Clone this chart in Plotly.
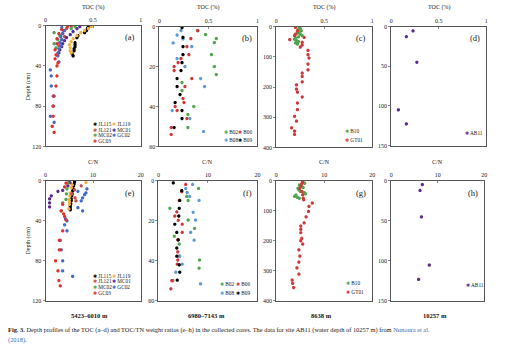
import plotly.graph_objects as go

# ---------------- DATA ----------------
# Panel (a) TOC (%) vs depth (cm), sites 5423-6010 m
a_JL115_d = [1, 3, 5, 7, 10, 12, 17, 19, 21, 23, 25, 28, 30]
a_JL115_v = [0.45, 0.44, 0.43, 0.41, 0.34, 0.33, 0.31, 0.31, 0.31, 0.30, 0.30, 0.28, 0.29]
a_JL119_d = [1, 3, 5, 7, 10, 13, 16, 19, 22, 25, 27]
a_JL119_v = [0.48, 0.45, 0.41, 0.37, 0.33, 0.29, 0.27, 0.25, 0.26, 0.26, 0.27]
a_JL121_d = [1, 3, 5, 8, 11, 14, 17, 20]
a_JL121_v = [0.27, 0.22, 0.20, 0.18, 0.20, 0.17, 0.15, 0.14]
a_MC01_d = [1, 3, 6, 9, 12, 15, 18, 21, 24, 27]
a_MC01_v = [0.36, 0.33, 0.29, 0.26, 0.22, 0.20, 0.18, 0.17, 0.15, 0.14]
a_MC02_d = [1, 3, 7, 10, 14, 18, 22]
a_MC02_v = [0.31, 0.27, 0.09, 0.15, 0.13, 0.09, 0.11]
a_GC02_d = [2, 5, 8, 11, 14, 17, 20, 23, 27, 30, 36, 44, 50, 60, 70, 80, 90, 96]
a_GC02_v = [0.17, 0.19, 0.18, 0.16, 0.17, 0.15, 0.16, 0.14, 0.13, 0.13, 0.14, 0.05, 0.06, 0.06, 0.08, 0.08, 0.05, 0.09]
a_GC03_d = [1, 4, 8, 13, 18, 24, 29, 33, 37, 40, 50, 60, 70, 80, 90, 100, 106]
a_GC03_v = [0.23, 0.17, 0.14, 0.12, 0.12, 0.10, 0.11, 0.10, 0.13, 0.12, 0.12, 0.11, 0.09, 0.08, 0.08, 0.07, 0.09]

# Panel (b) TOC, 6980-7143 m
b_B02_d = [2, 4, 6, 8, 14, 20, 24, 28, 32, 40, 44, 50.5]
b_B02_v = [0.39, 0.47, 0.58, 0.56, 0.53, 0.56, 0.58, 0.23, 0.23, 0.35, 0.29, 0.29]
b_B06_d = [2, 6, 10, 14, 16, 18, 20, 22, 26, 30, 36, 38, 40, 42, 46, 50.5, 54]
b_B06_v = [0.39, 0.32, 0.28, 0.30, 0.22, 0.19, 0.15, 0.15, 0.33, 0.26, 0.24, 0.25, 0.16, 0.18, 0.28, 0.12, 0.12]
b_B08_d = [2, 4.3, 6.2, 8.2, 10, 16, 20, 26, 30, 42, 46, 52.5]
b_B08_v = [0.22, 0.18, 0.24, 0.14, 0.33, 0.18, 0.26, 0.42, 0.46, 0.13, 0.31, 0.45]
b_B09_d = [0.5, 5.4, 10, 14, 18, 22, 26, 30, 34, 38, 42, 46, 50.5]
b_B09_v = [0.23, 0.24, 0.24, 0.24, 0.23, 0.22, 0.18, 0.18, 0.21, 0.16, 0.23, 0.23, 0.15]

# Panel (c) TOC, 8638 m
c_B10_d = [2, 6, 10, 14, 18, 22, 26, 30, 34, 38, 42, 46, 50, 54, 58]
c_B10_v = [0.24, 0.25, 0.23, 0.26, 0.24, 0.22, 0.25, 0.27, 0.23, 0.20, 0.19, 0.21, 0.23, 0.20, 0.22]
c_GT01_d = [3, 14, 25, 30, 36, 43, 52, 61, 68, 79, 93, 104, 124, 143, 154, 165, 183,
            193, 207, 217, 233, 253, 275, 297, 313, 335, 346, 357]
c_GT01_v = [0.20, 0.22, 0.20, 0.19, 0.29, 0.14, 0.27, 0.27, 0.25, 0.33, 0.33, 0.34, 0.33, 0.33,
            0.27, 0.27, 0.27, 0.21, 0.21, 0.22, 0.27, 0.22, 0.22, 0.19, 0.21, 0.16, 0.19, 0.19]

# Panel (d) TOC, 10257 m
d_AB11_d = [5.4, 12.8, 45, 105, 122.7]
d_AB11_v = [0.23, 0.16, 0.27, 0.076, 0.16]

# Panel (e) C/N, 5423-6010 m
e_JL115_d = [1, 3, 5, 8, 10, 13, 15, 18, 20, 23, 25, 27, 29]
e_JL115_v = [6.1, 6.0, 5.9, 5.8, 5.7, 5.6, 5.5, 5.4, 5.4, 5.3, 5.2, 5.2, 5.2]
e_JL119_d = [1.6, 4, 7, 12, 15, 18.6, 21, 23.5, 28]
e_JL119_v = [8.5, 5.6, 5.4, 5.2, 5.1, 5.0, 5.0, 5.0, 4.9]
e_JL121_d = [2, 5, 9, 13, 17, 20]
e_JL121_v = [5.2, 7.5, 6.1, 5.5, 6.2, 6.4]
e_MC01_d = [1.6, 5, 9.5, 10.5, 15, 18, 22, 26]
e_MC01_v = [5.0, 4.7, 3.6, 2.6, 1.2, 0.84, 0.84, 0.84]
e_MC02_d = [2, 8, 13, 18.6, 22, 30]
e_MC02_v = [4.7, 4.5, 4.4, 4.3, 3.6, 3.3]
e_GC02_d = [8, 10.5, 12, 13.7, 17, 20, 26.8, 30, 38, 40, 44, 50, 59.5, 69, 80, 90, 95.5]
e_GC02_v = [8.7, 6.8, 8.5, 8.2, 7.8, 7.5, 6.8, 7.8, 4.2, 4.5, 4.0, 4.5, 3.1, 3.3, 3.6, 3.6, 5.7]
e_GC03_d = [2.3, 6, 23.5, 30, 33, 35.6, 39, 50, 59.5, 69, 80, 90, 99.7, 105]
e_GC03_v = [4.3, 4.0, 3.6, 3.3, 3.8, 4.0, 4.3, 3.6, 2.9, 2.9, 2.1, 2.6, 2.8, 3.1]

# Panel (f) C/N, 6980-7143 m
f_B02_d = [3.8, 7.8, 9.8, 13.7, 19.6, 23.8, 27.7, 31.6, 39.6, 43.7, 49.9]
f_B02_v = [8.1, 5.7, 6.0, 2.3, 6.0, 7.3, 3.2, 4.2, 8.3, 8.2, 2.9]
f_B06_d = [1.8, 5.4, 9.8, 15.5, 17.6, 19.7, 21.7, 25.8, 29.5, 35.5, 37.7, 39.6, 41.7, 49.9, 54]
f_B06_v = [5.5, 4.7, 4.2, 3.7, 3.3, 4.0, 4.8, 4.8, 3.9, 3.9, 4.2, 3.9, 3.8, 2.7, 2.5]
f_B08_d = [1.8, 3.8, 5.9, 7.8, 9.8, 15.7, 19.6, 25.8, 29.7, 37.7, 41.7, 45.7, 51.5]
f_B08_v = [6.9, 5.5, 5.8, 6.3, 8.2, 7.0, 7.5, 6.5, 7.2, 4.3, 4.8, 3.5, 8.5]
f_B09_d = [1, 4.9, 9.8, 13.7, 17.6, 21.7, 25.8, 29.5, 33.6, 37.7, 42, 45.7, 49.7]
f_B09_v = [3.0, 4.7, 4.3, 4.2, 4.1, 3.3, 3.7, 4.0, 3.7, 3.7, 4.2, 4.3, 3.8]

# Panel (g) C/N, 8638 m
g_B10_d = [3, 8, 14, 18, 22, 25, 30, 35, 39, 43, 47, 52, 55, 58]
g_B10_v = [5.5, 5.9, 4.8, 5.2, 5.6, 4.5, 4.7, 5.0, 5.8, 6.1, 4.1, 3.8, 4.4, 4.8]
g_GT01_d = [3, 9, 17, 25, 36, 47, 58, 63, 74, 85, 102, 120, 140, 151, 162, 173, 192,
            200, 211, 230, 251, 271, 290, 311, 331, 342, 356]
g_GT01_v = [5.5, 5.3, 5.1, 4.9, 5.3, 5.5, 5.6, 5.7, 7.5, 6.8, 6.7, 6.2, 5.8, 5.1, 5.1, 5.1,
            5.3, 5.1, 5.5, 4.7, 4.9, 4.7, 4.3, 4.7, 3.3, 3.4, 3.6]

# Panel (h) C/N, 10257 m
h_AB11_d = [4.6, 12, 45, 105.4, 123.3]
h_AB11_v = [6.7, 6.2, 6.5, 8.2, 5.9]

# Labels
panel_letters = ["(a)", "(b)", "(c)", "(d)", "(e)", "(f)", "(g)", "(h)"]
site_labels = ["5423\u20136010 m", "6980\u20137143 m", "8638 m", "10257 m"]
depth_max = [120, 60, 400, 150]
depth_dtick = [40, 20, 100, 50]

# ---------------- STYLE ----------------
COL = {
    "JL115": "#000000", "JL119": "#f2b33d", "JL121": "#c0504d", "MC01": "#5b2c8f",
    "MC02": "#4ea64e", "GC02": "#3f6cc8", "GC03": "#e2302e",
    "B02": "#4ea64e", "B06": "#d0393a", "B08": "#5b9bd5", "B09": "#000000",
    "B10": "#4ea64e", "GT01": "#d0393a", "AB11": "#5b2c8f",
}
FONT = "Liberation Serif, Times New Roman, serif"
TXT = "#1a1a1a"
W, H = 512, 349

# panel pixel boxes (left, right, top, bottom)
boxes = [
    (44, 140, 23, 146), (159, 258, 24, 146), (277, 374, 24, 147), (393, 489, 24, 145),
    (44, 140, 181, 303), (158, 258, 181, 303), (277, 374, 181, 303), (393, 487, 181, 303),
]

panels = [
    [("JL115", a_JL115_v, a_JL115_d), ("JL119", a_JL119_v, a_JL119_d), ("JL121", a_JL121_v, a_JL121_d),
     ("MC01", a_MC01_v, a_MC01_d), ("MC02", a_MC02_v, a_MC02_d), ("GC02", a_GC02_v, a_GC02_d),
     ("GC03", a_GC03_v, a_GC03_d)],
    [("B02", b_B02_v, b_B02_d), ("B06", b_B06_v, b_B06_d), ("B08", b_B08_v, b_B08_d), ("B09", b_B09_v, b_B09_d)],
    [("B10", c_B10_v, c_B10_d), ("GT01", c_GT01_v, c_GT01_d)],
    [("AB11", d_AB11_v, d_AB11_d)],
    [("JL115", e_JL115_v, e_JL115_d), ("JL119", e_JL119_v, e_JL119_d), ("JL121", e_JL121_v, e_JL121_d),
     ("MC01", e_MC01_v, e_MC01_d), ("MC02", e_MC02_v, e_MC02_d), ("GC02", e_GC02_v, e_GC02_d),
     ("GC03", e_GC03_v, e_GC03_d)],
    [("B02", f_B02_v, f_B02_d), ("B06", f_B06_v, f_B06_d), ("B08", f_B08_v, f_B08_d), ("B09", f_B09_v, f_B09_d)],
    [("B10", g_B10_v, g_B10_d), ("GT01", g_GT01_v, g_GT01_d)],
    [("AB11", h_AB11_v, h_AB11_d)],
]

# legend layout: (column x px list, first row y px, row step px)
legend_layout = [
    ([89.5, 109.5], 123, 5.9), ([222, 236.5], 131, 8.3), ([344.5], 130.5, 8.5), ([466], 132, 8),
    ([89.5, 109.5], 277.3, 5.9), ([218.5, 234.5], 286, 8.6), ([345], 285, 8.8), ([466.5], 287.3, 8),
]

def px(x):
    return x / W

def py(y):
    return 1 - y / H

fig = go.Figure()
annotations = []

for i, series in enumerate(panels):
    n = i + 1
    xa = "x" if n == 1 else f"x{n}"
    ya = "y" if n == 1 else f"y{n}"
    for name, vals, deps in series:
        fig.add_trace(go.Scatter(
            x=vals, y=deps, mode="markers", name=name, xaxis=xa, yaxis=ya,
            showlegend=False,
            marker=dict(symbol="asterisk-open", size=2.7, color=COL[name],
                        line=dict(color=COL[name], width=1.2)),
        ))
    l, r, t, b = boxes[i]
    top = i < 4
    k = i % 4
    xkey = "xaxis" if n == 1 else f"xaxis{n}"
    ykey = "yaxis" if n == 1 else f"yaxis{n}"
    fig.layout[xkey] = dict(
        domain=[px(l), px(r)], anchor=ya, side="top",
        range=[0, 1] if top else [0, 20], dtick=0.5 if top else 10, tick0=0,
        showline=True, mirror=True, linecolor="#555555", linewidth=1,
        ticks="inside", ticklen=2, tickcolor="#888888", showgrid=False, zeroline=False,
        tickfont=dict(family=FONT, size=6, color=TXT),
    )
    fig.layout[ykey] = dict(
        domain=[py(b), py(t)], anchor=xa,
        range=[depth_max[k], 0], dtick=depth_dtick[k], tick0=0,
        showline=True, mirror=True, linecolor="#555555", linewidth=1,
        ticks="outside", ticklen=2, tickcolor="#888888", showgrid=False, zeroline=False,
        tickfont=dict(family=FONT, size=6, color=TXT),
    )
    # axis title above
    annotations.append(dict(
        text="TOC (%)" if top else "C/N", x=px((l + r) / 2), y=py(5 if top else 162),
        xref="paper", yref="paper", showarrow=False, xanchor="center", yanchor="middle",
        font=dict(family=FONT, size=6, color=TXT)))
    # panel letter
    annotations.append(dict(
        text=panel_letters[i], x=px(r - 4), y=py(t + 12), xref="paper", yref="paper",
        showarrow=False, xanchor="right", yanchor="middle",
        font=dict(family=FONT, size=8.5, color=TXT)))
    # legend entries
    cols, y0, dy = legend_layout[i]
    for j, (name, _, _) in enumerate(series):
        c = j % len(cols)
        rrow = j // len(cols)
        annotations.append(dict(
            text=f"<span style='color:{COL[name]}'>\u2731</span> {name}",
            x=px(cols[c]), y=py(y0 + rrow * dy), xref="paper", yref="paper",
            showarrow=False, xanchor="left", yanchor="middle",
            font=dict(family=FONT, size=5.3, color=TXT)))

# Depth titles
for yc in (85, 242):
    annotations.append(dict(
        text="Depth (cm)", x=px(27), y=py(yc), xref="paper", yref="paper", showarrow=False,
        textangle=-90, xanchor="center", yanchor="middle",
        font=dict(family=FONT, size=6, color=TXT)))

# site labels
for lab, xc in zip(site_labels, [88, 207, 323, 437]):
    annotations.append(dict(
        text=f"<b>{lab}</b>", x=px(xc), y=py(318), xref="paper", yref="paper", showarrow=False,
        xanchor="center", yanchor="middle", font=dict(family=FONT, size=6.5, color="#111111")))

# caption
annotations.append(dict(
    text=("<b>Fig. 3.</b> Depth profiles of the TOC (a\u2013d) and TOC/TN weight ratios (e\u2013h) in the "
          "collected cores. The data for site AB11 (water depth of 10257 m) from "
          "<span style='color:#3b6fb0'>Nunoura et al.</span>"),
    x=px(4), y=py(333), xref="paper", yref="paper", showarrow=False,
    xanchor="left", yanchor="middle", font=dict(family=FONT, size=6.4, color=TXT)))
annotations.append(dict(
    text="<span style='color:#3b6fb0'>(2018)</span>.",
    x=px(4), y=py(342.5), xref="paper", yref="paper", showarrow=False,
    xanchor="left", yanchor="middle", font=dict(family=FONT, size=6.4, color=TXT)))

fig.update_layout(
    width=W, height=H, margin=dict(l=0, r=0, t=0, b=0),
    paper_bgcolor="white", plot_bgcolor="white",
    annotations=annotations, showlegend=False,
)

fig.write_html("out.html")
